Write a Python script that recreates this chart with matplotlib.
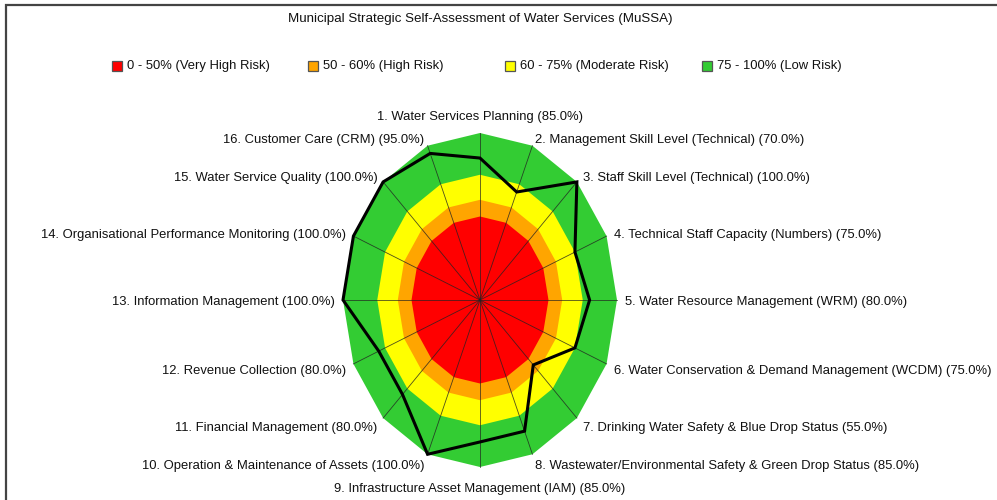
import numpy as np
import matplotlib
matplotlib.use("Agg")
import matplotlib.pyplot as plt
from matplotlib.patches import Rectangle, Polygon
from matplotlib import font_manager as fm

# The reference is vertically stretched; a narrow font at a bigger size mimics it.
_narrow = any(f.name == 'Liberation Sans Narrow' for f in fm.fontManager.ttflist)
if _narrow:
    plt.rcParams['font.family'] = ['Liberation Sans Narrow', 'Liberation Sans', 'DejaVu Sans']
    fs, fs_title = 11.4, 11.6
else:
    plt.rcParams['font.family'] = ['Liberation Sans', 'DejaVu Sans']
    fs, fs_title = 9.4, 9.6

title = "Municipal Strategic Self-Assessment of Water Services (MuSSA)"
categories = [
    "1. Water Services Planning",
    "2. Management Skill Level (Technical)",
    "3. Staff Skill Level (Technical)",
    "4. Technical Staff Capacity (Numbers)",
    "5. Water Resource Management (WRM)",
    "6. Water Conservation & Demand Management (WCDM)",
    "7. Drinking Water Safety & Blue Drop Status",
    "8. Wastewater/Environmental Safety & Green Drop Status",
    "9. Infrastructure Asset Management (IAM)",
    "10. Operation & Maintenance of Assets",
    "11. Financial Management",
    "12. Revenue Collection",
    "13. Information Management",
    "14. Organisational Performance Monitoring",
    "15. Water Service Quality",
    "16. Customer Care (CRM)",
]
values = [85, 70, 100, 75, 80, 75, 55, 85, 85, 100, 80, 80, 100, 100, 100, 95]
band_edges = [50, 60, 75, 100]
band_labels = ["0 - 50% (Very High Risk)", "50 - 60% (High Risk)",
               "60 - 75% (Moderate Risk)", "75 - 100% (Low Risk)"]
band_colors = ["#FF0000", "#FFA500", "#FFFF00", "#33CC33"]

W, H = 997, 500
fig = plt.figure(figsize=(W / 100, H / 100), dpi=100)
fig.patch.set_facecolor("white")

cx, cy = 480, 300          # centre in pixels (from top)
rx, ry = 137, 167          # radius of 100% in pixels
lim = 1.05
ax = fig.add_axes([(cx - lim * rx) / W, ((H - cy) - lim * ry) / H,
                   2 * lim * rx / W, 2 * lim * ry / H])
ax.set_xlim(-lim, lim)
ax.set_ylim(-lim, lim)
ax.set_aspect('auto')
ax.axis('off')

n = len(categories)
theta = np.pi / 2 - np.arange(n) * 2 * np.pi / n
ct, st = np.cos(theta), np.sin(theta)

# bands (largest first)
for edge, col in sorted(zip(band_edges, band_colors), reverse=True):
    r = edge / 100
    ax.add_patch(Polygon(np.column_stack([r * ct, r * st]), closed=True,
                         facecolor=col, edgecolor='none', zorder=1))

# spokes
for c, s in zip(ct, st):
    ax.plot([0, c], [0, s], color='#222222', lw=0.6, alpha=0.8, zorder=2)

# data polygon
v = np.array(values) / 100
ax.add_patch(Polygon(np.column_stack([v * ct, v * st]), closed=True,
                     facecolor='none', edgecolor='black', lw=2.2,
                     joinstyle='miter', zorder=3))

# labels
for i, (lab, val) in enumerate(zip(categories, values)):
    c, s = ct[i], st[i]
    d = 8
    if abs(c) < 0.01:
        ha = 'center'
        va = 'bottom' if s > 0 else 'top'
        d = 10 if s > 0 else 16
        dy_extra = 0
    else:
        ha = 'left' if c > 0 else 'right'
        va = 'center'
        dy_extra = -2 if s > -0.01 else -4
    ax.annotate(f"{lab} ({val:.1f}%)", xy=(c, s),
                xytext=(d * c, d * s + dy_extra), textcoords='offset pixels',
                ha=ha, va=va, fontsize=fs, color='#111111',
                annotation_clip=False)

# title
fig.text(cx / W, 1 - 19 / H, title, ha='center', va='center',
         fontsize=fs_title, color='#111111')

# legend
leg_x = [112, 308, 505, 702]
for x, lab, col in zip(leg_x, band_labels, band_colors):
    fig.patches.append(Rectangle((x / W, 1 - 71 / H), 9.5 / W, 10 / H,
                                 transform=fig.transFigure, facecolor=col,
                                 edgecolor='#555555', lw=0.9))
    fig.text((x + 15) / W, 1 - 66.5 / H, lab, ha='left', va='center',
             fontsize=fs, color='#111111')

# frame
fig.patches.append(Rectangle((6 / W, -0.1), 1.2, 1 - 5 / H + 0.1,
                             transform=fig.transFigure, facecolor='none',
                             edgecolor='#444444', lw=1.6))

fig.savefig("out.png", dpi=100, facecolor='white')
